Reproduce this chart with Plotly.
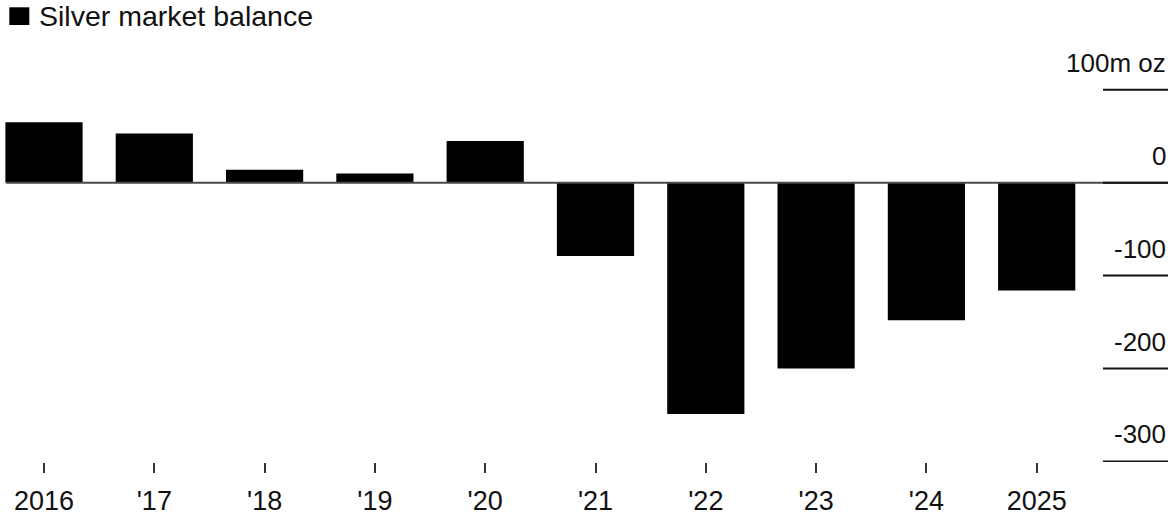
import plotly.graph_objects as go

# ---- data ----
year_labels = ["2016", "'17", "'18", "'19", "'20", "'21", "'22", "'23", "'24", "2025"]
balance = [65, 53, 14, 10, 45, -79, -249, -200, -148, -116]
ytick_values = [100, 0, -100, -200, -300]
ytick_labels = ["100m oz", "0", "-100", "-200", "-300"]
series_name = "Silver market balance"

# ---- layout constants ----
W, H = 1175, 519
M_T, M_B = 60, 57
PX_PER_CAT = 110.3
FIRST_CENTER_PX = 44
x_left = -FIRST_CENTER_PX / PX_PER_CAT
x_right = (W - FIRST_CENTER_PX) / PX_PER_CAT
plot_h = H - M_T - M_B
px_per_unit = 92.9 / 100
zero_px = 182.7
y_top = (zero_px - M_T) / px_per_unit
y_bot = -(H - M_B - zero_px) / px_per_unit

def px_to_x(px):
    return (px - FIRST_CENTER_PX) / PX_PER_CAT

def py_to_paper(py):
    return (H - M_B - py) / plot_h

FONT = "Liberation Sans, Arial, sans-serif"
xs = list(range(len(year_labels)))

fig = go.Figure()
fig.add_trace(go.Bar(
    x=xs, y=balance, name=series_name,
    marker=dict(color="#000000", line=dict(width=0)),
    width=0.7, showlegend=False, hoverinfo="skip",
))

shapes = []
# zero baseline
shapes.append(dict(type="line", xref="x", yref="y",
                   x0=px_to_x(6), x1=px_to_x(1168), y0=0, y1=0,
                   line=dict(color="#4a4a4a", width=2), layer="above"))
annotations = []
for v, lab in zip(ytick_values, ytick_labels):
    shapes.append(dict(type="line", xref="x", yref="y",
                       x0=px_to_x(1103), x1=px_to_x(1168), y0=v, y1=v,
                       line=dict(color="#111111", width=2), layer="above"))
    annotations.append(dict(xref="x", yref="y", x=px_to_x(1168), y=v,
                            text=lab, showarrow=False, xanchor="right",
                            yanchor="bottom", yshift=10,
                            font=dict(family=FONT, size=26, color="#111111")))

# legend marker and text
shapes.append(dict(type="rect", xref="paper", yref="paper",
                   x0=9.3 / W, x1=29.3 / W, y0=py_to_paper(25), y1=py_to_paper(7.3),
                   fillcolor="#000000", line=dict(width=0)))
annotations.append(dict(xref="paper", yref="paper", x=37 / W, y=py_to_paper(16),
                        text=series_name, showarrow=False, xanchor="left",
                        yanchor="middle",
                        font=dict(family=FONT, size=28.5, color="#111111")))

fig.update_layout(
    width=W, height=H,
    margin=dict(l=0, r=0, t=M_T, b=M_B, pad=0),
    paper_bgcolor="white", plot_bgcolor="white",
    bargap=0.3,
    shapes=shapes, annotations=annotations,
    xaxis=dict(range=[x_left, x_right], tickmode="array", tickvals=xs,
               ticktext=year_labels, ticks="outside", ticklen=10, tickwidth=1.5,
               tickcolor="#333333", showgrid=False, zeroline=False, showline=False,
               ticklabelstandoff=5,
               tickfont=dict(family=FONT, size=27, color="#111111"), fixedrange=True),
    yaxis=dict(range=[y_bot, y_top], showticklabels=False, showgrid=False,
               zeroline=False, showline=False, ticks="", fixedrange=True),
)

fig.write_html("out.html", config={"displayModeBar": False},
               post_script="document.body.style.margin='0';document.body.style.overflow='hidden';")
